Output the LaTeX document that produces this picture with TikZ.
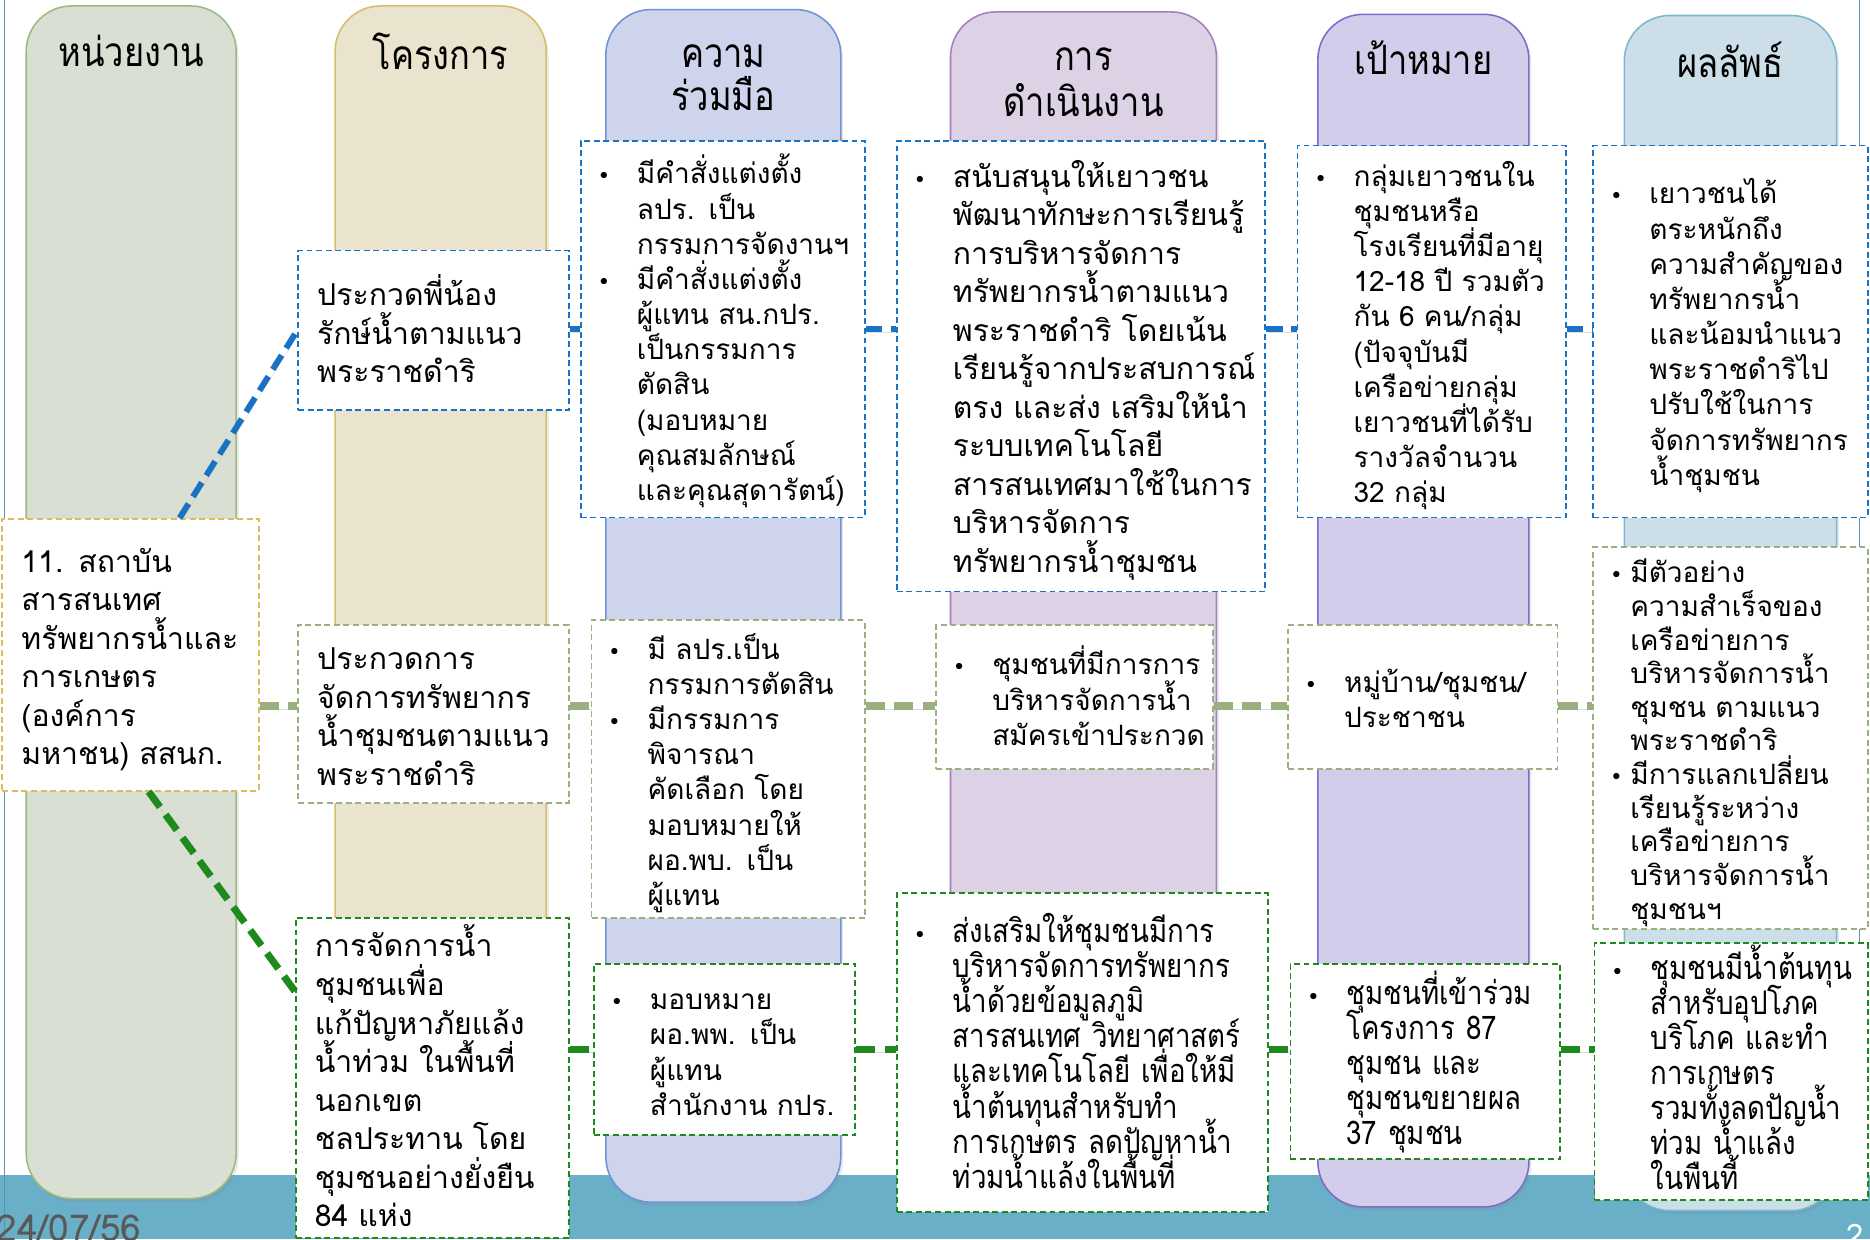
\documentclass[tikz,border=0pt]{standalone}
\usepackage{fontspec}
\usepackage{array}
\setmainfont[Script=Thai]{Loma}
\newfontfamily\thaititle[Script=Thai,FakeStretch=0.85]{Loma}
\newfontfamily\thaicond[Script=Thai,FakeStretch=0.85]{Loma}
\newfontfamily\dvs{DejaVu Sans}
\usetikzlibrary{calc,shadows}
\definecolor{bandC}{HTML}{6AAFC8}
\definecolor{t1f}{HTML}{D9E0D3}\definecolor{t1d}{HTML}{9DBA7E}
\definecolor{t2f}{HTML}{EAE3CD}\definecolor{t2d}{HTML}{D4BD6C}
\definecolor{t3f}{HTML}{CED4EC}\definecolor{t3d}{HTML}{6F93D8}
\definecolor{t4f}{HTML}{DDD1E5}\definecolor{t4d}{HTML}{A47DC2}
\definecolor{t5f}{HTML}{D2CDEA}\definecolor{t5d}{HTML}{7C6DCB}
\definecolor{t6f}{HTML}{CCDFE8}\definecolor{t6d}{HTML}{7AB8CF}
\definecolor{lnBlue}{HTML}{1A72C4}
\definecolor{lnSage}{HTML}{9BB07F}
\definecolor{lnGreen}{HTML}{1E8A1E}
\definecolor{orgD}{HTML}{D8BE60}
\newcommand\bu{{\dvs\fontsize{18}{18}\selectfont\char"2022}}
\newsavebox\cellbox
\newcolumntype{L}{>{\begin{lrbox}{\cellbox}}l<{\end{lrbox}\smash{\usebox{\cellbox}}}}
\newenvironment{bls}[1][33pt]{\begin{tabular}{@{}p{#1}@{}L@{}}\noalign{\vskip 10pt}}{\end{tabular}}
\newenvironment{pls}{\begin{tabular}{@{}L@{}}\noalign{\vskip 10pt}}{\end{tabular}}
\tikzset{
  tab/.style={rounded corners=38pt, line width=1.3pt, inner sep=0pt,
    drop shadow={opacity=0.18, shadow xshift=2pt, shadow yshift=-3pt}},
  ttl/.style={font=\thaititle\fontsize{34}{38}\selectfont, align=center, inner sep=0pt},
  bx/.style={fill=white, line width=1.5pt, dash pattern=on 5pt off 3pt, inner sep=0pt, align=left},
  big/.style={font=\fontsize{25.3}{32.3}\selectfont},
  sml/.style={font=\fontsize{23.5}{29.5}\selectfont},
  smt/.style={font=\fontsize{23.5}{28.2}\selectfont},
  cnd/.style={font=\thaicond\fontsize{27.3}{29.4}\selectfont},
  shd/.style={preaction={draw=black!35, opacity=0.35, transform canvas={shift={(1.5pt,-2.5pt)}}}},
  cb/.style={draw=lnBlue, line width=5pt, dash pattern=on 14pt off 7pt, shd},
  cs/.style={draw=lnSage, line width=6pt, dash pattern=on 16pt off 8pt, shd},
  cg/.style={draw=lnGreen, line width=6pt, dash pattern=on 16pt off 8pt, shd},
}
\begin{document}
\begin{tikzpicture}[x=1pt,y=-1pt]
\useasboundingbox (0,0) rectangle (1568,1039);
\fill[white] (0,0) rectangle (1568,1039);
\fill[bandC] (0,985) rectangle (1568,1039);
\draw[bandC!85!black, line width=1pt] (4,0) -- (4,1039);
\draw[bandC!85!black, line width=1pt] (1559,0) -- (1559,985);
% tabs
\node[tab, fill=t1f, draw=t1d, minimum width=176pt, minimum height=1000pt] (tab1) at (110,505) {};
\node[tab, fill=t2f, draw=t2d, minimum width=177pt, minimum height=1000pt] (tab2) at (369.5,505) {};
\node[tab, fill=t3f, draw=t3d, minimum width=197pt, minimum height=1000pt] (tab3) at (606.5,508) {};
\node[tab, fill=t4f, draw=t4d, minimum width=223pt, minimum height=1000pt] (tab4) at (908.5,510) {};
\node[tab, fill=t5f, draw=t5d, minimum width=177pt, minimum height=1000pt] (tab5) at (1193.5,512) {};
\node[tab, fill=t6f, draw=t6d, minimum width=178pt, minimum height=1002pt] (tab6) at (1451,514) {};
\node[ttl] (h1) at (110,43) {หน่วยงาน};
\node[ttl] (h2) at (369.5,43) {โครงการ};
\node[ttl] (h3) at (606.5,65) {ความ\\[-2pt]ร่วมมือ};
\node[ttl] (h4) at (908.5,69) {การ\\[0pt]ดำเนินงาน};
\node[ttl] (h5) at (1193.5,48) {เป้าหมาย};
\node[ttl] (h6) at (1451,50) {ผลลัพธ์};
\coordinate (r1) at (0,276);
\coordinate (r2) at (0,592);
\coordinate (r3) at (0,880);
% boxes
\node[bx, draw=orgD, big, minimum width=215pt, minimum height=228pt, text width=183pt] (org) at (109.5,549) {\begin{pls}11. สถาบัน\\สารสนเทศ\\ทรัพยากรน้ำและ\\การเกษตร\\(องค์การ\\มหาชน) สสนก.\end{pls}};
\node[bx, draw=lnBlue, big, minimum width=227pt, minimum height=134pt, text width=195pt] (a1) at (363.5,277) {\begin{pls}ประกวดพี่น้อง\\รักษ์น้ำตามแนว\\พระราชดำริ\end{pls}};
\node[bx, draw=lnSage, big, minimum width=227pt, minimum height=149pt, text width=195pt] (b1) at (363.5,598.5) {\begin{pls}ประกวดการ\\จัดการทรัพยากร\\น้ำชุมชนตามแนว\\พระราชดำริ\end{pls}};
\node[bx, draw=lnGreen, big, minimum width=229pt, minimum height=266pt, text width=197pt] (c1) at (362.5,904) {\begin{pls}การจัดการน้ำ\\ชุมชนเพื่อ\\แก้ปัญหาภัยแล้ง\\น้ำท่วม ในพื้นที่\\นอกเขต\\ชลประทาน โดย\\ชุมชนอย่างยั่งยืน\\84 แห่ง\end{pls}};
\node[bx, draw=lnBlue, sml, minimum width=238pt, minimum height=316pt, text width=210pt] (a2) at (606,276) {\begin{bls}\bu & มีคำสั่งแต่งตั้ง\\ & ลปร. เป็น\\ & กรรมการจัดงานฯ\\ \bu & มีคำสั่งแต่งตั้ง\\ & ผู้แทน สน.กปร.\\ & เป็นกรรมการ\\ & ตัดสิน\\ & (มอบหมาย\\ & คุณสมลักษณ์\\ & และคุณสุดารัตน์)\end{bls}};
\node[bx, draw=lnBlue, big, minimum width=309pt, minimum height=378pt, text width=281pt] (a3) at (906.5,307) {\begin{bls}\bu & สนับสนุนให้เยาวชน\\ & พัฒนาทักษะการเรียนรู้\\ & การบริหารจัดการ\\ & ทรัพยากรน้ำตามแนว\\ & พระราชดำริ โดยเน้น\\ & เรียนรู้จากประสบการณ์\\ & ตรง และส่ง เสริมให้นำ\\ & ระบบเทคโนโลยี\\ & สารสนเทศมาใช้ในการ\\ & บริหารจัดการ\\ & ทรัพยากรน้ำชุมชน\end{bls}};
\node[bx, draw=lnBlue, sml, minimum width=225pt, minimum height=312pt, text width=197pt] (a4) at (1200.5,278) {\begin{bls}\bu & กลุ่มเยาวชนใน\\ & ชุมชนหรือ\\ & โรงเรียนที่มีอายุ\\ & 12-18 ปี รวมตัว\\ & กัน 6 คน/กลุ่ม\\ & (ปัจจุบันมี\\ & เครือข่ายกลุ่ม\\ & เยาวชนที่ได้รับ\\ & รางวัลจำนวน\\ & 32 กลุ่ม\end{bls}};
\node[bx, draw=lnBlue, sml, minimum width=230pt, minimum height=312pt, text width=202pt] (a5) at (1451,278) {\begin{bls}\bu & เยาวชนได้\\ & ตระหนักถึง\\ & ความสำคัญของ\\ & ทรัพยากรน้ำ\\ & และน้อมนำแนว\\ & พระราชดำริไป\\ & ปรับใช้ในการ\\ & จัดการทรัพยากร\\ & น้ำชุมชน\end{bls}};
\node[bx, draw=lnSage, sml, minimum width=229pt, minimum height=250pt, text width=201pt] (b2) at (610.5,645) {\begin{bls}\bu & มี ลปร.เป็น\\ & กรรมการตัดสิน\\ \bu & มีกรรมการ\\ & พิจารณา\\ & คัดเลือก โดย\\ & มอบหมายให้\\ & ผอ.พบ. เป็น\\ & ผู้แทน\end{bls}};
\node[bx, draw=lnSage, sml, minimum width=232pt, minimum height=121pt, text width=204pt] (b3) at (901,584.5) {\begin{bls}\bu & ชุมชนที่มีการการ\\ & บริหารจัดการน้ำ\\ & สมัครเข้าประกวด\end{bls}};
\node[bx, draw=lnSage, sml, minimum width=226pt, minimum height=121pt, text width=198pt] (b4) at (1193,584.5) {\begin{bls}\bu & หมู่บ้าน/ชุมชน/\\ & ประชาชน\end{bls}};
\node[bx, draw=lnSage, smt, minimum width=230pt, minimum height=302pt, text width=202pt] (b5) at (1451,619) {\begin{bls}[17pt]\bu & มีตัวอย่าง\\ & ความสำเร็จของ\\ & เครือข่ายการ\\ & บริหารจัดการน้ำ\\ & ชุมชน ตามแนว\\ & พระราชดำริ\\ \bu & มีการแลกเปลี่ยน\\ & เรียนรู้ระหว่าง\\ & เครือข่ายการ\\ & บริหารจัดการน้ำ\\ & ชุมชนฯ\end{bls}};
\node[bx, draw=lnGreen, sml, minimum width=219pt, minimum height=144pt, text width=191pt] (c2) at (607.5,880) {\begin{bls}\bu & มอบหมาย\\ & ผอ.พพ. เป็น\\ & ผู้แทน\\ & สำนักงาน กปร.\end{bls}};
\node[bx, draw=lnGreen, cnd, minimum width=311pt, minimum height=267pt, text width=283pt] (c3) at (907.5,882.5) {\begin{bls}\bu & ส่งเสริมให้ชุมชนมีการ\\ & บริหารจัดการทรัพยากร\\ & น้ำด้วยข้อมูลภูมิ\\ & สารสนเทศ วิทยาศาสตร์\\ & และเทคโนโลยี เพื่อให้มี\\ & น้ำต้นทุนสำหรับทำ\\ & การเกษตร ลดปัญหาน้ำ\\ & ท่วมน้ำแล้งในพื้นที่\end{bls}};
\node[bx, draw=lnGreen, cnd, minimum width=226pt, minimum height=164pt, text width=198pt] (c4) at (1195,890) {\begin{bls}\bu & ชุมชนที่เข้าร่วม\\ & โครงการ 87\\ & ชุมชน และ\\ & ชุมชนขยายผล\\ & 37 ชุมชน\end{bls}};
\node[bx, draw=lnGreen, cnd, minimum width=229pt, minimum height=209pt, text width=201pt] (c5) at (1451.5,898.5) {\begin{bls}\bu & ชุมชนมีน้ำต้นทุน\\ & สำหรับอุปโภค\\ & บริโภค และทำ\\ & การเกษตร\\ & รวมทั้งลดปัญน้ำ\\ & ท่วม น้ำแล้ง\\ & ในพืนที้\end{bls}};
% connectors
\draw[cb] ($(org.north west)!0.69!(org.north east)$) -- (a1.west);
\draw[cb] (a1.east |- r1) -- (a2.west |- r1);
\draw[cb] (a2.east |- r1) -- (a3.west |- r1);
\draw[cb] (a3.east |- r1) -- (a4.west |- r1);
\draw[cb] (a4.east |- r1) -- (a5.west |- r1);
\draw[cs] (org.east |- r2) -- (b1.west |- r2);
\draw[cs] (b1.east |- r2) -- (b2.west |- r2);
\draw[cs] (b2.east |- r2) -- (b3.west |- r2);
\draw[cs] (b3.east |- r2) -- (b4.west |- r2);
\draw[cs] (b4.east |- r2) -- (b5.west |- r2);
\draw[cg] ($(org.south west)!0.57!(org.south east)$) -- ($(c1.north west)!0.23!(c1.south west)$);
\draw[cg] (c1.east |- r3) -- (c2.west |- r3);
\draw[cg] (c2.east |- r3) -- (c3.west |- r3);
\draw[cg] (c3.east |- r3) -- (c4.west |- r3);
\draw[cg] (c4.east |- r3) -- (c5.west |- r3);
\node[anchor=base west, inner sep=0pt, font=\fontsize{31}{34}\selectfont, text=black!65] (date) at (-3,1041) {24/07/56};
\node[anchor=base west, inner sep=0pt, font=\fontsize{26}{30}\selectfont, text=white] (pg) at (1548,1045) {2};
\end{tikzpicture}
\end{document}
